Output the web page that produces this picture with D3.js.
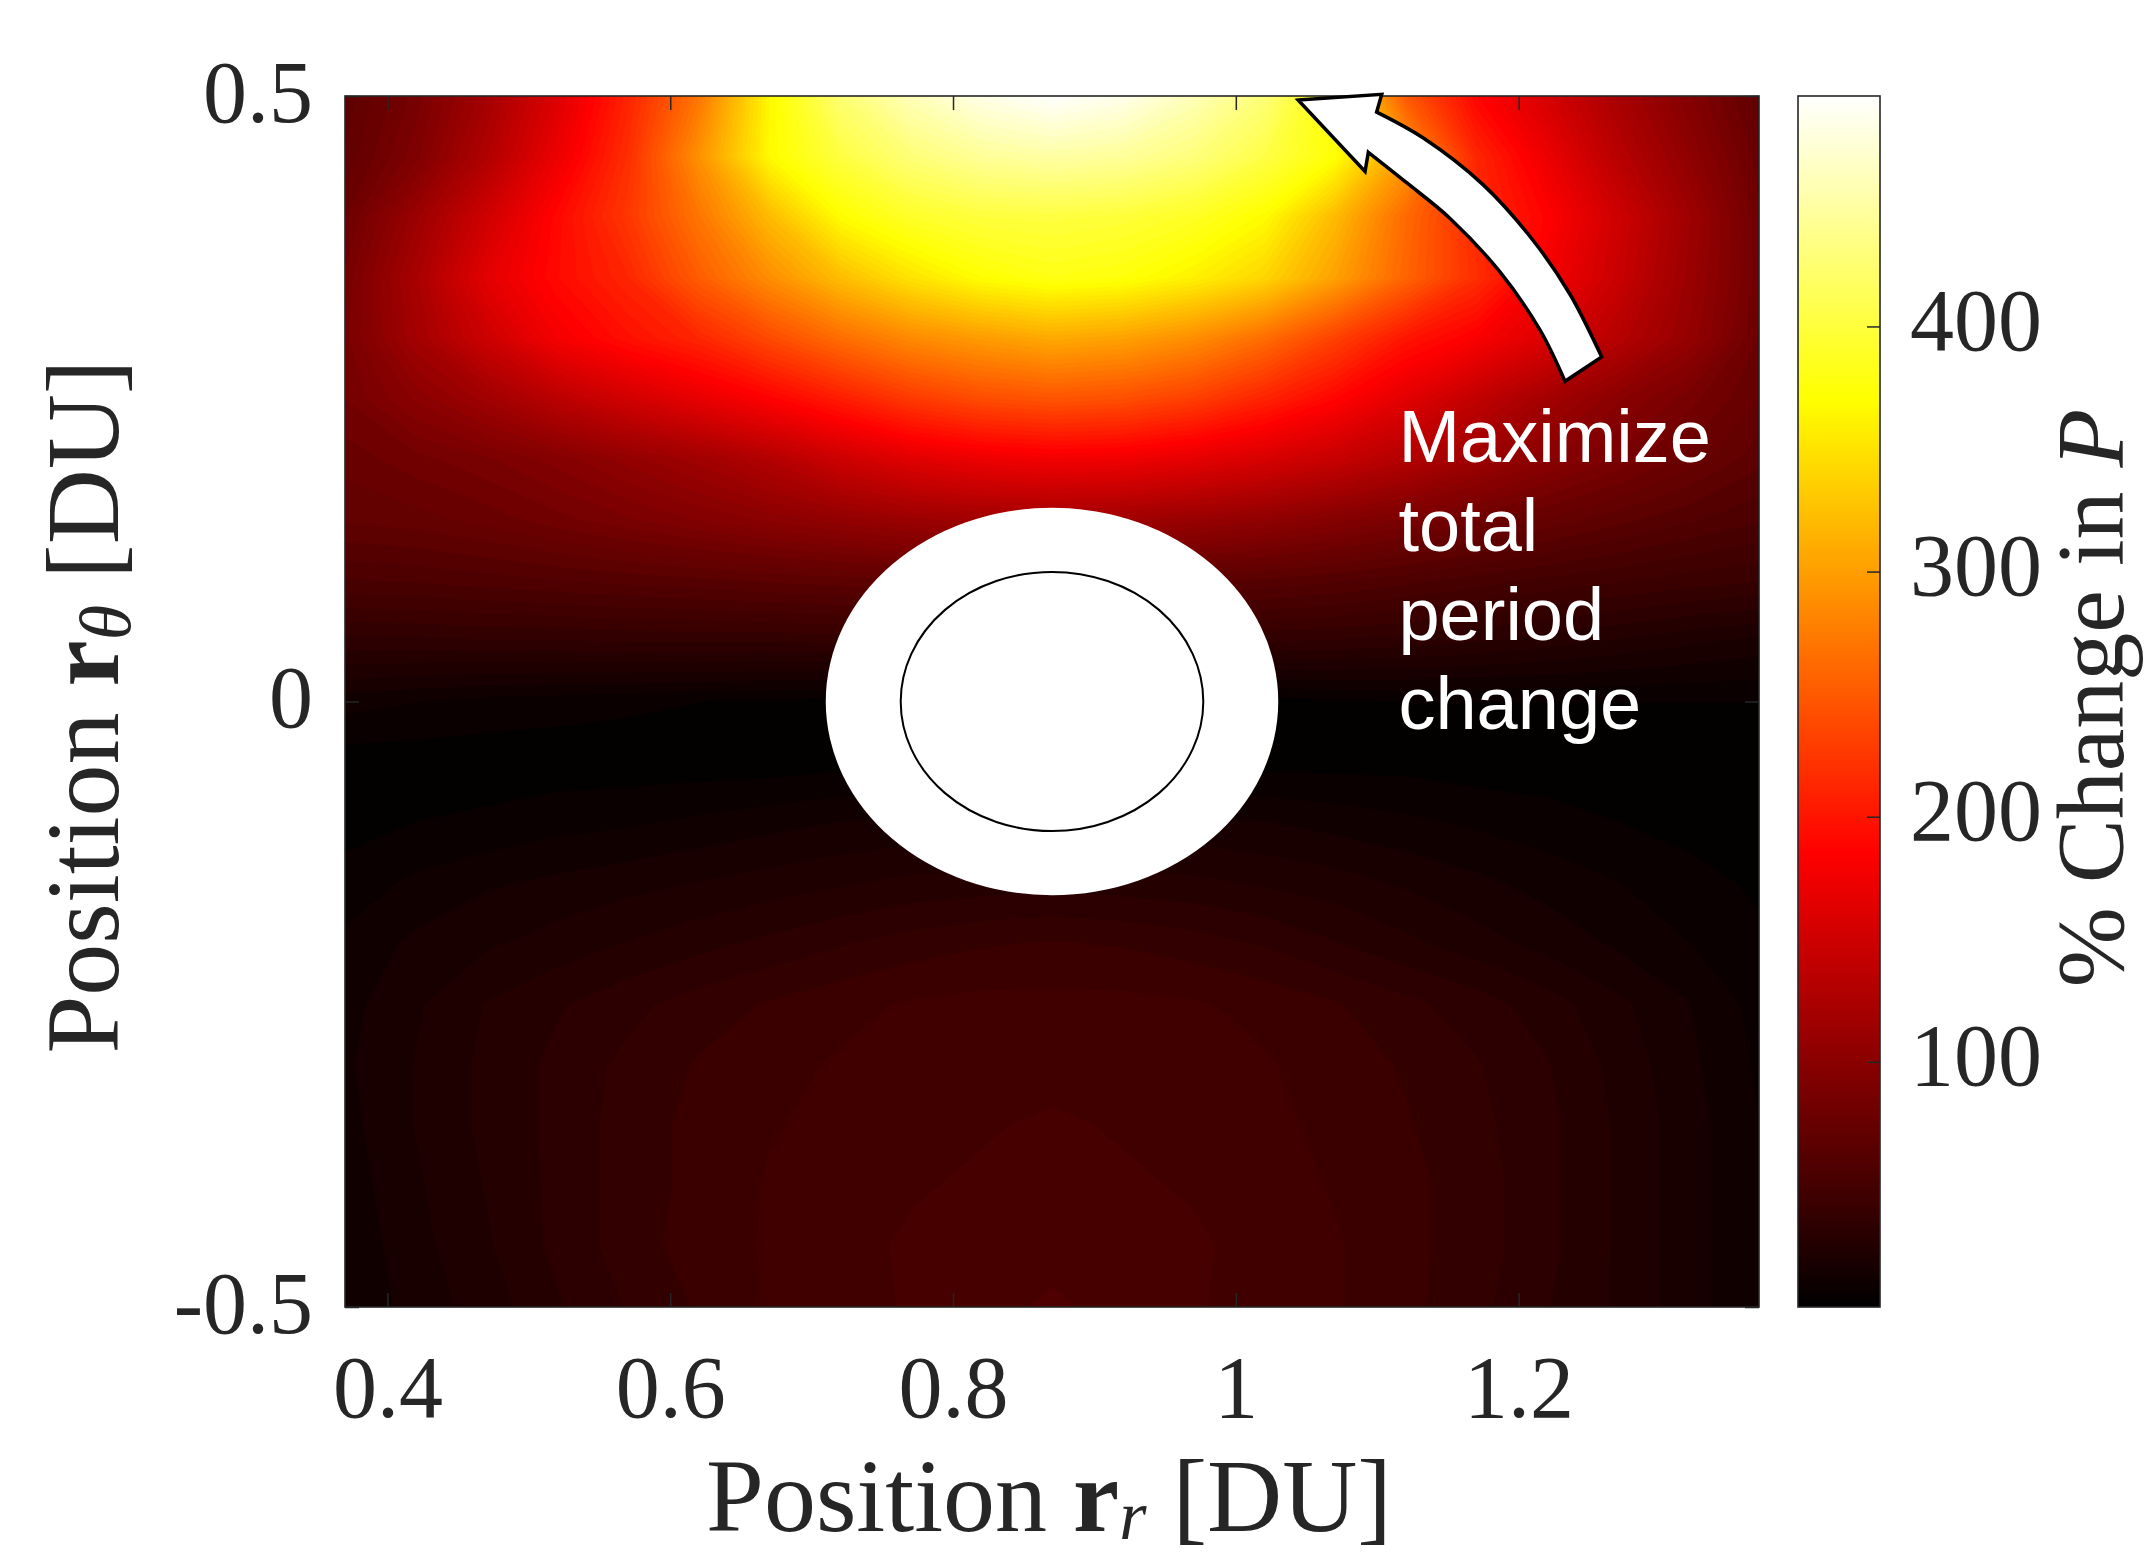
<!DOCTYPE html>
<html><head><meta charset="utf-8">
<script src="https://cdn.jsdelivr.net/npm/d3@7"></script>
<style>html,body{margin:0;padding:0;background:#fff;} svg{display:block}</style>
</head><body>
<svg id="chart" width="2146" height="1558"></svg>
<script>
// ---------------- data ----------------
const xLimits = [0.37, 1.37];
const yLimits = [-0.5, 0.5];
const colorLimits = [0, 494];

const xGrid = [0.37, 0.42, 0.47, 0.52, 0.57, 0.62, 0.67, 0.72, 0.77, 0.82, 0.87, 0.92, 0.97, 1.02, 1.07, 1.12, 1.17, 1.22, 1.27, 1.32, 1.37];
const yGrid = [0.5, 0.45, 0.4, 0.35, 0.3, 0.25, 0.2, 0.15, 0.1, 0.05, 0, -0.05, -0.1, -0.15, -0.2, -0.25, -0.3, -0.35, -0.4, -0.45, -0.5];

// % change in period, rows follow yGrid (top to bottom), columns follow xGrid
const pctChange = [
  [66, 86, 118, 160, 210, 270, 365, 425, 460, 482, 494, 484, 460, 428, 370, 250, 188, 155, 122, 95, 70],
  [70, 92, 128, 172, 218, 290, 366, 402, 428, 444, 450, 445, 430, 405, 372, 298, 212, 172, 134, 104, 76],
  [78, 112, 150, 190, 225, 270, 320, 368, 390, 400, 402, 398, 388, 368, 320, 262, 215, 186, 150, 115, 80],
  [85, 122, 165, 192, 212, 252, 288, 322, 350, 370, 380, 375, 360, 340, 302, 258, 218, 178, 146, 112, 81],
  [87, 118, 148, 178, 196, 212, 238, 264, 285, 298, 308, 302, 288, 264, 232, 200, 182, 160, 132, 108, 78],
  [84, 100, 116, 135, 152, 168, 185, 205, 226, 240, 246, 242, 230, 210, 188, 164, 140, 118, 100, 86, 74],
  [76, 82, 88, 96, 106, 116, 130, 148, 163, 172, 176, 174, 166, 156, 144, 130, 114, 100, 88, 77, 66],
  [70, 72, 76, 82, 88, 94, 100, 106, 112, 116, 118, 116, 110, 104, 96, 88, 80, 73, 66, 60, 55],
  [54, 55, 57, 59, 61, 63, 65, 67, 68, 69, 69, 68, 66, 63, 60, 56, 52, 48, 45, 42, 40],
  [33, 33, 34, 34, 35, 35, 35, 36, 36, 36, 36, 36, 36, 35, 34, 32, 30, 27, 24, 21, 18],
  [12, 10, 8, 7, 6, 5, 4, 3, 2, 2, 2, 2, 2, 3, 4, 5, 5, 5, 5, 5, 5],
  [2, 2, 2, 2, 2, 2, 2, 3, 3, 3, 3, 3, 3, 3, 3, 3, 2, 2, 1, 1, 1],
  [3, 5, 6, 8, 9, 11, 13, 15, 16, 16, 16, 16, 16, 15, 13, 11, 9, 7, 5, 3, 1],
  [7, 11, 14, 16, 18, 20, 22, 24, 26, 27, 28, 27, 26, 24, 22, 19, 16, 13, 10, 7, 4],
  [11, 16, 19, 22, 25, 28, 31, 34, 37, 39, 40, 39, 37, 34, 30, 26, 22, 18, 14, 10, 6],
  [13, 19, 25, 29, 33, 37, 40, 43, 45, 46, 46, 46, 45, 43, 40, 36, 32, 27, 21, 15, 8],
  [14, 20, 26, 31, 36, 40, 43, 45, 47, 48, 48, 48, 47, 45, 42, 39, 35, 30, 23, 16, 9],
  [13, 20, 26, 31, 37, 41, 44, 46, 48, 49, 50, 49, 48, 46, 43, 40, 36, 31, 24, 17, 10],
  [12, 19, 25, 31, 37, 41, 45, 47, 49, 50, 51, 50, 49, 47, 44, 41, 37, 31, 24, 17, 10],
  [11, 18, 24, 31, 37, 42, 45, 48, 50, 52, 53, 52, 50, 48, 45, 41, 37, 31, 24, 17, 10],
  [10, 17, 22, 29, 35, 40, 45, 47, 50, 53, 55, 53, 50, 47, 45, 41, 36, 30, 24, 17, 10]
];

const xTicks = [0.4, 0.6, 0.8, 1, 1.2];
const xTickLabels = ["0.4", "0.6", "0.8", "1", "1.2"];
const yTicks = [-0.5, 0, 0.5];
const yTickLabels = ["-0.5", "0", "0.5"];
const cTicks = [100, 200, 300, 400];
const cTickLabels = ["100", "200", "300", "400"];

const exclusionCenter = [0.87, 0];
const exclusionRadius = [0.16];
const bodyRadius = [0.107];

const annotationLines = ["Maximize", "total", "period", "change"];
const annotationAnchor = [1.115, 0.198];

// arrow outline in data coordinates
const arrowHead = [[1.0442, 0.4966], [1.1032, 0.5014]];
const arrowOuter = [[1.0996, 0.4867], [1.1326, 0.4653], [1.1750, 0.4266], [1.2104, 0.3805], [1.2363, 0.3363], [1.2587, 0.2846]];
const arrowInner = [[1.2328, 0.2644], [1.2151, 0.3068], [1.1868, 0.3547], [1.1515, 0.3989], [1.1208, 0.4284], [1.0937, 0.4535]];
const arrowHeadLow = [[1.0914, 0.4377]];

// ---------------- drawing ----------------
const svg = d3.select("#chart");
const PL = 345, PR = 1759, PT = 96, PB = 1307;
const axisColor = "#262626";
const serif = "'Liberation Serif','Times New Roman',serif";
const sans = "'Liberation Sans',Arial,Helvetica,sans-serif";

const x = d3.scaleLinear().domain(xLimits).range([PL, PR]);
const y = d3.scaleLinear().domain(yLimits).range([PB, PT]);

function hot(t) {
  t = Math.max(0, Math.min(1, t));
  const r = Math.min(1, t / 0.375);
  const g = Math.max(0, Math.min(1, (t - 0.375) / 0.375));
  const b = Math.max(0, Math.min(1, (t - 0.75) / 0.25));
  return d3.rgb(r * 255, g * 255, b * 255).toString();
}
const color = d3.scaleSequential(hot).domain(colorLimits);

const defs = svg.append("defs");
defs.append("clipPath").attr("id", "plotClip")
  .append("rect").attr("x", PL).attr("y", PT).attr("width", PR - PL).attr("height", PB - PT);

// filled contours
const nx = xGrid.length, ny = yGrid.length;
const values = pctChange.flat();
const step = (colorLimits[1] - colorLimits[0]) / 100;
const thresholds = d3.range(colorLimits[0], colorLimits[1], step);
const contours = d3.contours().size([nx, ny]).thresholds(thresholds)(values);
const gx = d3.scaleLinear().domain([0.5, nx - 0.5]).range([x(xGrid[0]), x(xGrid[nx - 1])]);
const gy = d3.scaleLinear().domain([0.5, ny - 0.5]).range([y(yGrid[0]), y(yGrid[ny - 1])]);
const gridPath = d3.geoPath(d3.geoTransform({
  point(px, py) { this.stream.point(gx(px), gy(py)); }
}));

const plotG = svg.append("g").attr("clip-path", "url(#plotClip)");
plotG.append("rect").attr("x", PL).attr("y", PT).attr("width", PR - PL).attr("height", PB - PT).attr("fill", "#000");
plotG.selectAll("path.band").data(contours).join("path")
  .attr("class", "band")
  .attr("d", gridPath)
  .attr("fill", d => color(d.value + step / 2))
  .attr("stroke", d => color(d.value + step / 2))
  .attr("stroke-width", 0.6);

// exclusion zone and body
const cx = x(exclusionCenter[0]), cy = y(exclusionCenter[1]);
plotG.append("ellipse")
  .attr("cx", cx).attr("cy", cy)
  .attr("rx", x(exclusionCenter[0] + exclusionRadius[0]) - cx)
  .attr("ry", cy - y(exclusionCenter[1] + exclusionRadius[0]))
  .attr("fill", "#fff");
plotG.append("ellipse")
  .attr("cx", cx).attr("cy", cy)
  .attr("rx", x(exclusionCenter[0] + bodyRadius[0]) - cx)
  .attr("ry", cy - y(exclusionCenter[1] + bodyRadius[0]))
  .attr("fill", "none").attr("stroke", "#000").attr("stroke-width", 2);

// axes ticks
function styleAxis(g) {
  g.select(".domain").remove();
  g.selectAll(".tick line").attr("stroke", axisColor).attr("stroke-width", 1.5);
  g.selectAll(".tick text").attr("fill", axisColor).style("font-family", serif).style("font-size", "88px");
}
const tick = 14;
svg.append("g").attr("transform", `translate(0,${PB})`)
  .call(d3.axisBottom(x).tickValues(xTicks).tickSize(-tick).tickFormat((d, i) => xTickLabels[i]))
  .call(styleAxis)
  .call(g => g.selectAll(".tick text").attr("y", 110).attr("dy", 0));
svg.append("g").attr("transform", `translate(0,${PT})`)
  .call(d3.axisTop(x).tickValues(xTicks).tickSize(-tick).tickFormat(""))
  .call(styleAxis);
svg.append("g").attr("transform", `translate(${PL},0)`)
  .call(d3.axisLeft(y).tickValues(yTicks).tickSize(-tick).tickFormat((d, i) => yTickLabels[i]))
  .call(styleAxis)
  .call(g => g.selectAll(".tick text").attr("x", -32).attr("dy", 25));
svg.append("g").attr("transform", `translate(${PR},0)`)
  .call(d3.axisRight(y).tickValues(yTicks).tickSize(-tick).tickFormat(""))
  .call(styleAxis);

svg.append("rect").attr("x", PL).attr("y", PT).attr("width", PR - PL).attr("height", PB - PT)
  .attr("fill", "none").attr("stroke", axisColor).attr("stroke-width", 1.6);

// axis labels
svg.append("text")
  .attr("x", (PL + PR) / 2 - 3).attr("y", 1531)
  .attr("text-anchor", "middle").attr("fill", axisColor)
  .style("font-family", serif).style("font-size", "104px")
  .call(t => {
    t.append("tspan").text("Position ");
    t.append("tspan").attr("font-weight", "bold").text("r");
    t.append("tspan").attr("font-style", "italic").style("font-size", "70px").attr("dy", 8).text("r");
    t.append("tspan").attr("dy", -8).text(" [DU]");
  });

svg.append("text")
  .attr("transform", `translate(118,${(PT + PB) / 2 + 5}) rotate(-90)`)
  .attr("text-anchor", "middle").attr("fill", axisColor)
  .style("font-family", serif).style("font-size", "104px")
  .call(t => {
    t.append("tspan").text("Position ");
    t.append("tspan").attr("font-weight", "bold").text("r");
    t.append("tspan").attr("font-style", "italic").style("font-size", "72px").attr("dy", 12).text("θ");
    t.append("tspan").attr("dy", -12).text(" [DU]");
  });

// colorbar
const CL = 1798, CR = 1880;
const cy2 = d3.scaleLinear().domain(colorLimits).range([PB, PT]);
const grad = defs.append("linearGradient").attr("id", "hotGrad")
  .attr("x1", 0).attr("y1", 1).attr("x2", 0).attr("y2", 0);
d3.range(0, 1.0001, 0.0125).forEach(t => {
  grad.append("stop").attr("offset", t)
    .attr("stop-color", color(colorLimits[0] + t * (colorLimits[1] - colorLimits[0])));
});
svg.append("rect").attr("x", CL).attr("y", cy2(colorLimits[1])).attr("width", CR - CL)
  .attr("height", cy2(colorLimits[0]) - cy2(colorLimits[1]))
  .attr("fill", "url(#hotGrad)");
svg.append("g").attr("transform", `translate(${CR},0)`)
  .call(d3.axisRight(cy2).tickValues(cTicks).tickSize(-13).tickFormat((d, i) => cTickLabels[i]))
  .call(styleAxis)
  .call(g => g.selectAll(".tick text").attr("x", 30).attr("dy", 23).attr("text-anchor", "start"));
svg.append("rect").attr("x", CL).attr("y", PT).attr("width", CR - CL).attr("height", PB - PT)
  .attr("fill", "none").attr("stroke", axisColor).attr("stroke-width", 1.6);

svg.append("text")
  .attr("transform", `translate(2123,698) rotate(-90)`)
  .attr("text-anchor", "middle").attr("fill", axisColor)
  .style("font-family", serif).style("font-size", "96px")
  .call(t => {
    t.append("tspan").text("% Change in ");
    t.append("tspan").attr("font-style", "italic").text("P");
  });

// arrow annotation
const lineLinear = d3.line().x(d => x(d[0])).y(d => y(d[1]));
const lineCurve = d3.line().x(d => x(d[0])).y(d => y(d[1])).curve(d3.curveCatmullRom);
const arrowD =
  lineLinear(arrowHead) +
  lineCurve(arrowOuter).replace(/^M/, "L") +
  lineCurve(arrowInner).replace(/^M/, "L") +
  "L" + x(arrowHeadLow[0][0]) + "," + y(arrowHeadLow[0][1]) + "Z";
svg.append("path").attr("d", arrowD)
  .attr("fill", "#fff").attr("stroke", "#000").attr("stroke-width", 3.5)
  .attr("stroke-linejoin", "miter");

svg.append("g").selectAll("text").data(annotationLines).join("text")
  .attr("x", x(annotationAnchor[0]))
  .attr("y", (d, i) => y(annotationAnchor[1]) + i * 89)
  .attr("fill", "#fff")
  .style("font-family", sans).style("font-size", "74px")
  .text(d => d);
</script>
</body></html>
